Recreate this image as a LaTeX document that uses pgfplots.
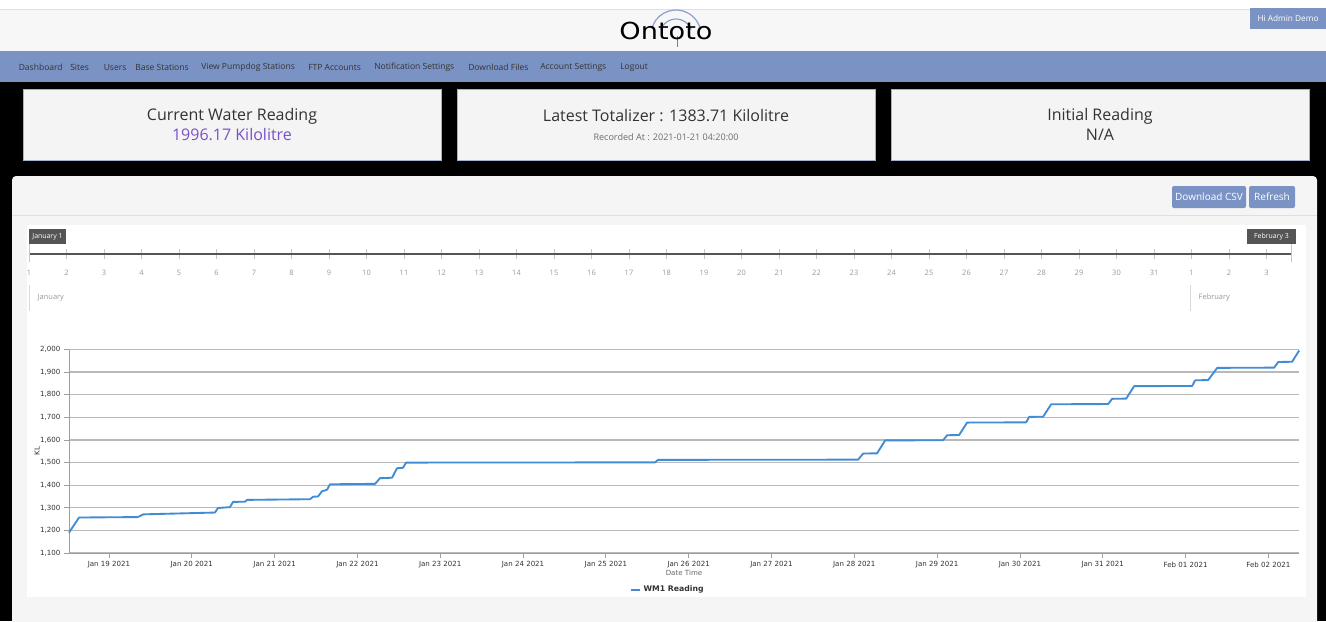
\documentclass[border=0pt]{standalone}
\usepackage{pgfplots}
\pgfplotsset{compat=1.18}
\usepackage{pgfplotstable}
\usepackage{fontspec}
\setmainfont{Open Sans}
\newfontfamily\dejavu{DejaVu Sans}
\newfontfamily\logofont{DejaVu Sans}
\definecolor{navblue}{RGB}{123,147,196}
\definecolor{cardbg}{RGB}{244,244,244}
\definecolor{cardborder}{RGB}{160,178,205}
\definecolor{purp}{RGB}{122,82,199}
\definecolor{txt}{RGB}{51,51,51}
\definecolor{linecol}{RGB}{66,140,214}
\definecolor{gridc}{RGB}{185,185,185}
\definecolor{panelbg}{RGB}{245,245,245}
\definecolor{headbg}{RGB}{247,247,247}
\definecolor{darkbox}{RGB}{85,85,85}
\definecolor{arcblue}{RGB}{140,160,205}

\pgfplotstableread{
d v
0.517 1190
0.638 1257
1.347 1259
1.414 1271
2.280 1279
2.316 1299
2.461 1303
2.498 1326
2.643 1327
2.667 1335
3.428 1338
3.464 1349
3.524 1350
3.572 1373
3.633 1380
3.669 1404
4.213 1406
4.273 1431
4.418 1433
4.478 1475
4.551 1477
4.587 1500
7.594 1501
7.630 1512
10.046 1513
10.106 1540
10.275 1541
10.372 1598
11.072 1599
11.121 1621
11.266 1622
11.362 1677
12.075 1678
12.111 1702
12.280 1703
12.377 1758
13.065 1759
13.113 1782
13.283 1783
13.379 1838
14.080 1839
14.116 1864
14.273 1865
14.382 1919
15.070 1920
15.119 1945
15.287 1946
15.372 1996
}\wmdata

\begin{document}
\begin{tikzpicture}
\begin{scope}[x=0.75pt,y=-0.75pt]
\useasboundingbox (0,0) rectangle (1326,621);
\fill[white] (0,0) rectangle (1326,621);
\fill[headbg] (0,9) rectangle (1326,51);
\draw[gray!25] (0,9) -- (1326,9);
\fill[navblue] (0,51) rectangle (1326,82);
\fill[black] (0,82) rectangle (1326,621);
% logo
\draw[arcblue, line width=0.9pt] (676,35) ++(195:25) arc (195:345:25);
\draw[arcblue, line width=0.9pt] (676,35) ++(200:16) arc (200:340:16);
\draw[arcblue!80!black, line width=0.6pt] (677,36) -- (677,47);
\node[font=\logofont\fontsize{18.5}{18}\selectfont, anchor=base, inner sep=0pt] at (666,39) {\scalebox{1.1}[0.95]{Ontoto}};
% user button
\fill[navblue] (1250,8) rectangle (1326,29);
\node[font=\fontsize{6.2}{7}\selectfont, text=white, inner sep=0pt] at (1288,18.5) {Hi Admin Demo};
% nav
\foreach \xx/\lab in {18.5/Dashboard,70/Sites,103.5/Users,135/Base Stations,201/View Pumpdog Stations,308/FTP Accounts,374/Notification Settings,468/Download Files,540/Account Settings,620/Logout}
  \node[font=\fontsize{6.4}{7}\selectfont, text=txt, anchor=west, inner sep=0pt] at (\xx,67) {\lab};
% cards
\foreach \xa in {23,457,891}
  \filldraw[fill=cardbg, draw=cardborder, line width=0.6pt] (\xa,89) rectangle ++(418,71);
\node[font=\fontsize{12}{14}\selectfont, text=txt] at (232,116) {Current Water Reading};
\node[font=\fontsize{12}{14}\selectfont, text=purp] at (232,135) {1996.17 Kilolitre};
\node[font=\fontsize{12}{14}\selectfont, text=txt] at (666,116) {Latest Totalizer : 1383.71 Kilolitre};
\node[font=\fontsize{6.8}{8}\selectfont, text=gray!85!black] at (666,137) {Recorded At : 2021-01-21 04:20:00};
\node[font=\fontsize{12}{14}\selectfont, text=txt] at (1100,116) {Initial Reading};
\node[font=\fontsize{12}{14}\selectfont, text=txt] at (1100,135) {N/A};
% panel
\fill[panelbg, rounded corners=3pt] (12,176) rectangle (1317,630);
\draw[gray!25] (12,215) -- (1317,215);
\fill[navblue, rounded corners=1.5pt] (1172,186) rectangle (1246,208);
\node[font=\fontsize{7.5}{9}\selectfont, text=white] at (1209,197) {Download CSV};
\fill[navblue, rounded corners=1.5pt] (1249,186) rectangle (1295,208);
\node[font=\fontsize{7.5}{9}\selectfont, text=white] at (1272,197) {Refresh};
\fill[white] (27,225) rectangle (1306,597);
% timeline
\foreach \i/\lab in {0/1,1/2,2/3,3/4,4/5,5/6,6/7,7/8,8/9,9/10,10/11,11/12,12/13,13/14,14/15,15/16,16/17,17/18,18/19,19/20,20/21,21/22,22/23,23/24,24/25,25/26,26/27,27/28,28/29,29/30,30/31,31/1,32/2,33/3}{
  \draw[gray!45] ({29+37.5*\i},249) -- ({29+37.5*\i},259);
  \node[font=\fontsize{5.6}{7}\selectfont, text=gray!80] at ({29+37.5*\i},273) {\lab};
}
\draw[gray!45] (1291,244) -- (1291,262);
\draw[darkbox, line width=1.6pt] (29,254) -- (1291,254);
\draw[gray!45] (29,244) -- (29,262);
\fill[darkbox] (29,229) rectangle (66,244);
\node[font=\fontsize{5.2}{6}\selectfont, text=white] at (47.5,236.5) {January 1};
\fill[darkbox] (1247,229) rectangle (1296,244);
\node[font=\fontsize{5.2}{6}\selectfont, text=white] at (1271.5,236.5) {February 3};
\draw[gray!30] (29,285) -- (29,311);
\node[font=\fontsize{5.6}{7}\selectfont, text=gray!80, anchor=west] at (33,298) {January};
\draw[gray!30] (1190,285) -- (1190,311);
\node[font=\fontsize{5.6}{7}\selectfont, text=gray!80, anchor=west] at (1194,298) {February};
\end{scope}

\begin{axis}[
  at={(51.75pt,-414.75pt)}, anchor=south west,
  scale only axis, width=922.5pt, height=152.6pt,
  xmin=0.517, xmax=15.37, ymin=1100, ymax=2000,
  xtick={1,...,15},
  xticklabels={Jan 19 2021,Jan 20 2021,Jan 21 2021,Jan 22 2021,Jan 23 2021,Jan 24 2021,Jan 25 2021,Jan 26 2021,Jan 27 2021,Jan 28 2021,Jan 29 2021,Jan 30 2021,Jan 31 2021,Feb 01 2021,Feb 02 2021},
  ytick={1100,1200,...,2000},
  axis lines*=left,
  axis line style={draw=gray!75, line width=0.7pt, -},
  ymajorgrids, grid style={gridc, line width=1pt},
  tick align=outside,
  tick style={draw=gray!75, line width=0.6pt},
  major tick length=3.5pt,
  ticklabel style={font=\dejavu\fontsize{5.3}{6}\selectfont, text=txt},
  xticklabel style={yshift=0.5pt},
  yticklabel style={xshift=0.5pt},
  /pgf/number format/1000 sep={,},
  /pgf/number format/assume math mode=true,
  xlabel={Date Time},
  xlabel style={at={(axis description cs:0.5,-0.097)}, anchor=center, font=\dejavu\fontsize{5.3}{6}\selectfont, text=gray!80!black},
  ylabel={KL},
  ylabel style={at={(axis description cs:-0.026,0.5)}, anchor=center, font=\dejavu\fontsize{5.3}{6}\selectfont, text=txt},
  legend style={at={(0.487,-0.18)}, anchor=center, draw=none, fill=none, font=\dejavu\bfseries\fontsize{5.8}{7}\selectfont, text=txt},
  legend image code/.code={\draw[linecol, line width=1.5pt] (0cm,0cm) -- (0.24cm,0cm);},
  clip=false,
]
\addplot[linecol, line width=1.4pt, line join=round] table[x=d, y=v] {\wmdata};
\addlegendentry{WM1 Reading}
\end{axis}
\end{tikzpicture}
\end{document}
